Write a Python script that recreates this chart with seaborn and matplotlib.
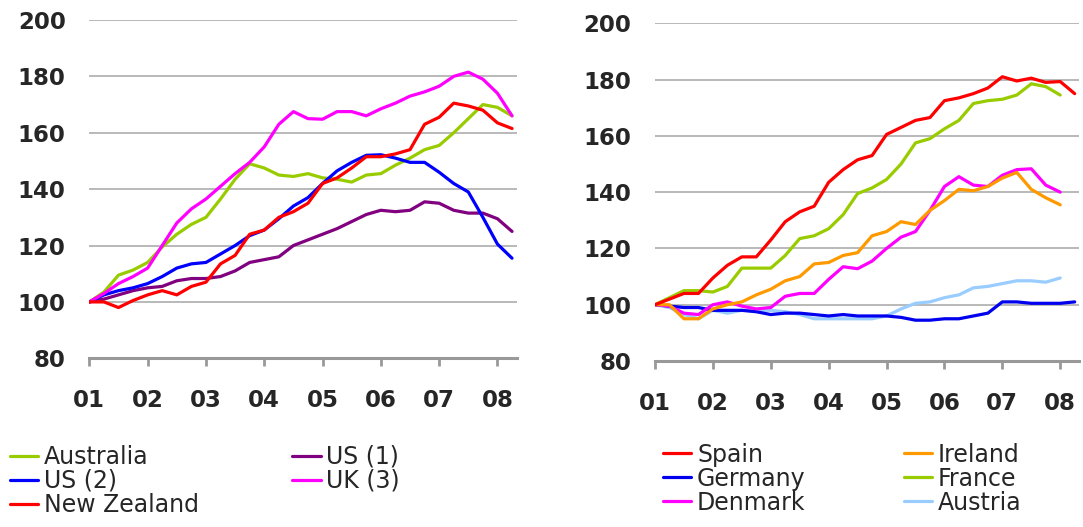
import numpy as np
import pandas as pd
import matplotlib
matplotlib.use('Agg')
import matplotlib.pyplot as plt
import seaborn as sns

# quarterly index values, 2001Q1 = 100
australia = [100, 103.5, 109.5, 111.3, 114, 119.5, 124, 127.5, 130, 136.5, 143.5, 149, 147.5, 145, 144.5,
             145.5, 144, 143.5, 142.5, 145, 145.5, 148.5, 151, 154, 155.5, 160, 165, 170, 169, 166]
us1 = [100, 101, 102.5, 104, 105, 105.5, 107.5, 108.3, 108.3, 109, 111, 114, 115, 116, 120,
       122, 124, 126, 128.5, 131, 132.5, 132, 132.5, 135.5, 135, 132.5, 131.5, 131.5, 129.5, 125]
us2 = [100, 102.5, 104, 105, 106.5, 109, 112, 113.5, 114, 117, 120, 123.5, 125.5, 129.5, 134,
       137, 142, 146.5, 149.5, 152, 152.2, 151, 149.5, 149.5, 146, 142, 139, 130, 120.5, 115.5]
uk3 = [100, 103, 106.5, 109, 112, 120, 128, 133, 136.5, 141, 145.5, 149.5, 155, 163, 167.5,
       165, 164.8, 167.5, 167.5, 166, 168.5, 170.5, 173, 174.5, 176.5, 180, 181.5, 179, 174, 166]
new_zealand = [100, 100, 98, 100.5, 102.5, 104, 102.5, 105.5, 107, 113.5, 116.5, 124, 125.5, 130, 132,
               135, 142, 144, 147.5, 151.5, 151.5, 152.5, 154, 163, 165.5, 170.5, 169.5, 168, 163.5, 161.5]

spain = [100, 102, 104, 104, 109.5, 114, 117, 117, 123, 129.5, 133, 135, 143.5, 148, 151.5,
         153, 160.5, 163, 165.5, 166.5, 172.5, 173.5, 175, 177, 181, 179.5, 180.5, 179, 179.3, 175]
ireland = [100, 100, 95, 95, 98.5, 100, 101, 103.5, 105.5, 108.5, 110, 114.5, 115, 117.5, 118.5,
           124.5, 126, 129.5, 128.5, 133.5, 137, 141, 140.5, 142, 145, 147, 141, 138, 135.5]
germany = [100, 99.5, 99, 99, 98, 98, 98, 97.5, 96.5, 97, 97, 96.5, 96, 96.5, 96,
           96, 96, 95.5, 94.5, 94.5, 95, 95, 96, 97, 101, 101, 100.5, 100.5, 100.5, 101]
france = [100, 102.5, 105, 105, 104.5, 106.5, 113, 113, 113, 117.5, 123.5, 124.5, 127, 132, 139.5,
          141.5, 144.5, 150, 157.5, 159, 162.5, 165.5, 171.5, 172.5, 173, 174.5, 178.5, 177.5, 174.5]
denmark = [100, 99.5, 97, 96.5, 100, 101, 99.5, 98.5, 99, 103, 104, 104, 109, 113.5, 112.8,
           115.5, 120, 124, 126, 133.5, 142, 145.5, 142.5, 142, 146, 148, 148.3, 142.5, 140]
austria = [100, 99, 96.5, 95, 98, 97, 98, 98, 98, 97.5, 96.5, 95, 95, 95, 95,
           95, 96, 98.5, 100.5, 101, 102.5, 103.5, 106, 106.5, 107.5, 108.5, 108.5, 108, 109.5]

quarters = pd.period_range('2001Q1', '2008Q2', freq='Q')
years = [2001, 2002, 2003, 2004, 2005, 2006, 2007, 2008]
year_labels = ['01', '02', '03', '04', '05', '06', '07', '08']

left_series = [('Australia', australia, '#99CC00'),
               ('US (2)', us2, '#0000FF'),
               ('New Zealand', new_zealand, '#FF0000'),
               ('US (1)', us1, '#800080'),
               ('UK (3)', uk3, '#FF00FF')]
right_series = [('Spain', spain, '#FF0000'),
                ('Germany', germany, '#0000EE'),
                ('Denmark', denmark, '#FF00FF'),
                ('Ireland', ireland, '#FF9900'),
                ('France', france, '#99CC00'),
                ('Austria', austria, '#99CCFF')]
left_order = ['Australia', 'US (1)', 'US (2)', 'UK (3)', 'New Zealand']
right_order = ['Austria', 'Germany', 'Denmark', 'Ireland', 'France', 'Spain']

sns.set_style('white')
plt.rcParams['font.family'] = ['DejaVu Sans']

fig = plt.figure(figsize=(10.83, 5.27), dpi=100)
ax1 = fig.add_axes([0.0825, 0.3201, 0.3946, 0.642])
ax2 = fig.add_axes([0.6048, 0.315, 0.3918, 0.6408])


def draw_panel(ax, series, order):
    handles = {}
    lookup = {name: (vals, col) for name, vals, col in series}
    for name in order:
        vals, col = lookup[name]
        x = quarters[:len(vals)].year + (quarters[:len(vals)].quarter - 1) / 4
        sns.lineplot(x=np.asarray(x, dtype=float), y=vals, color=col, linewidth=2.3, ax=ax)
        handles[name] = ax.get_lines()[-1]
    ax.set_xlim(2001, 2008.33)
    ax.set_ylim(80, 200)
    ax.set_yticks(range(80, 201, 20))
    ax.set_xticks(years)
    ax.set_xticklabels(year_labels)
    ax.yaxis.grid(True, color='#A6A6A6', linewidth=1.1)
    ax.xaxis.grid(False)
    for s in ['top', 'right', 'left']:
        ax.spines[s].set_visible(False)
    ax.spines['bottom'].set_color('#999999')
    ax.spines['bottom'].set_linewidth(2.2)
    ax.tick_params(axis='y', length=0, pad=17, labelsize=16.5)
    ax.tick_params(axis='x', direction='out', length=6, width=2, color='#999999',
                   pad=16, labelsize=16.5, bottom=True)
    for lab in ax.get_xticklabels() + ax.get_yticklabels():
        lab.set_fontweight('bold')
    return [handles[name] for name, _, _ in series], [name for name, _, _ in series]


h1, l1 = draw_panel(ax1, left_series, left_order)
h2, l2 = draw_panel(ax2, right_series, right_order)

leg_kw = dict(loc='upper left', ncol=2, frameon=False, fontsize=17, borderpad=0,
              borderaxespad=0, handlelength=1.2, handletextpad=0.25, labelspacing=0.0)
fig.legend(h1, l1, bbox_to_anchor=(0.009, 0.156), columnspacing=3.95, **leg_kw)
fig.legend(h2, l2, bbox_to_anchor=(0.612, 0.16), columnspacing=4.15, **leg_kw)

fig.savefig('out.png', dpi=100)
